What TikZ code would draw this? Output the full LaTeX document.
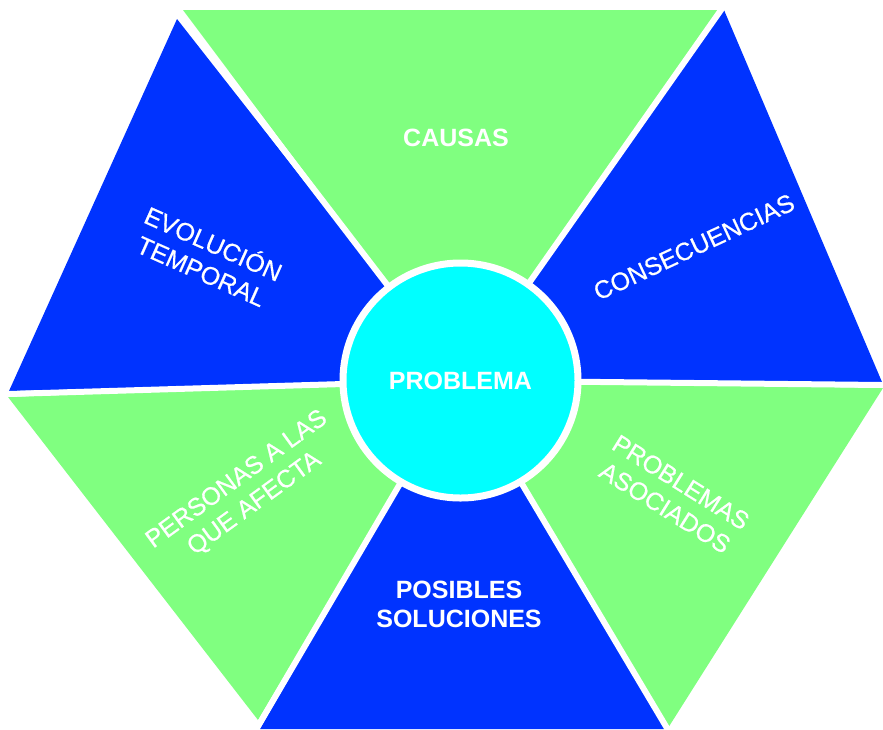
\documentclass[tikz,border=0pt]{standalone}
\usepackage{fontspec}
\setmainfont{Liberation Sans}
\newfontfamily\semibold[FakeBold=0.6]{Liberation Sans}
\usetikzlibrary{calc}
\definecolor{lgreen}{RGB}{128,255,128}
\definecolor{dblue}{RGB}{0,51,255}
\definecolor{pcyan}{RGB}{0,255,255}
\begin{document}
\begin{tikzpicture}[x=1pt,y=-1pt,
  greentri/.style={fill=lgreen},
  bluetri/.style={fill=dblue},
  spoke/.style={white,line width=6pt},
  lbl/.style={text=white,align=center,inner sep=0pt,font=\semibold\fontsize{25}{30}\selectfont},
  blbl/.style={text=white,align=center,inner sep=0pt,font=\fontsize{25}{29}\selectfont\bfseries}]
\useasboundingbox (0,0) rectangle (883,729);
\coordinate (C) at (460.5,380.5);
% triangles
\fill[greentri] (183,10) -- (718,10) -- (C) -- cycle;
\fill[bluetri] (724,10) -- (882,382) -- (C) -- cycle;
\fill[greentri] (883,388) -- (668,728) -- (C) -- cycle;
\fill[bluetri] (667,729) -- (260,729) -- (C) -- cycle;
\fill[greentri] (258,720) -- (8,397) -- (C) -- cycle;
\fill[bluetri] (9,391) -- (177,19) -- (C) -- cycle;
% spokes
\coordinate (s1) at ($(C)!1.05!(180,14.5)$);
\coordinate (s2) at ($(C)!1.05!(721,10)$);
\coordinate (s3) at ($(C)!1.05!(882.5,385)$);
\coordinate (s4) at ($(C)!1.05!(667.5,729)$);
\coordinate (s5) at ($(C)!1.05!(259,724.5)$);
\coordinate (s6) at ($(C)!1.05!(8.5,394)$);
\foreach \s in {s1,s2,s3,s4,s5,s6} \draw[spoke] (C) -- (\s);
% centre
\node[circle,fill=pcyan,draw=white,line width=7pt,minimum size=235pt,inner sep=0pt,
      text=white,font=\fontsize{25}{30}\selectfont\bfseries] (prob) at (C) {PROBLEMA};
% labels
\node[blbl] (causas) at (456,137.5) {CAUSAS};
\node[lbl,rotate=-24] (evol) at (208,256) {EVOLUCIÓN\\TEMPORAL};
\node[lbl,rotate=25] (conse) at (694,247) {CONSECUENCIAS};
\node[lbl,rotate=36] (pers) at (246,492) {PERSONAS A LAS\\QUE AFECTA};
\node[lbl,rotate=-32] (asoc) at (673,495) {PROBLEMAS\\ASOCIADOS};
\node[blbl] (sol) at (459,604) {POSIBLES\\SOLUCIONES};
\end{tikzpicture}
\end{document}
